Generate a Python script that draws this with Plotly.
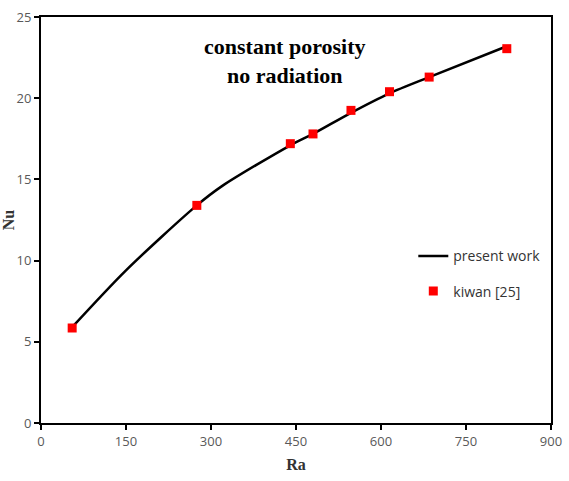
import plotly.graph_objects as go

# present work (line)
ra_line = [55, 150, 275, 320, 440, 480, 547, 615, 685, 822]
nu_line = [5.9, 9.4, 13.4, 14.6, 17.1, 17.8, 19.1, 20.3, 21.3, 23.2]

# kiwan [25] (markers)
ra_kiwan = [55, 275, 440, 480, 547, 615, 685, 822]
nu_kiwan = [5.85, 13.4, 17.2, 17.8, 19.25, 20.4, 21.3, 23.05]

x_ticks = [0, 150, 300, 450, 600, 750, 900]
y_ticks = [0, 5, 10, 15, 20, 25]

fig = go.Figure()
fig.add_trace(go.Scatter(
    x=ra_line, y=nu_line, mode="lines", name="present work",
    line=dict(color="black", width=2.5, shape="spline", smoothing=0.8),
    legendgroup="a"))
fig.add_trace(go.Scatter(
    x=ra_kiwan, y=nu_kiwan, mode="markers", name="kiwan [25]",
    marker=dict(color="#ff0000", symbol="square", size=9),
    legendgroup="b"))

fig.add_annotation(x=430, y=22.3, xref="x", yref="y",
                   text="<b>constant porosity<br>no radiation</b>",
                   showarrow=False, align="center",
                   font=dict(family="Liberation Serif", size=22, color="black"))

axis_common = dict(showline=True, linecolor="black", linewidth=2, mirror=True,
                   ticks="outside", ticklen=5, tickwidth=2, tickcolor="black",
                   showgrid=False, zeroline=False, automargin=False,
                   tickfont=dict(family="Open Sans", size=13, color="#595959"))

fig.update_layout(
    width=569, height=481,
    margin=dict(l=41, r=18, t=17, b=58),
    paper_bgcolor="white", plot_bgcolor="white",
    xaxis=dict(range=[0, 900], tickvals=x_ticks, **axis_common,
               title=dict(text="<b>Ra</b>", standoff=10,
                          font=dict(family="Liberation Serif", size=16, color="#333"))),
    yaxis=dict(range=[0, 25], tickvals=y_ticks, **axis_common,
               title=dict(text="<b>Nu</b>", standoff=4,
                          font=dict(family="Liberation Serif", size=16, color="#333"))),
    legend=dict(x=0.73, y=0.45, xanchor="left", yanchor="top",
                bgcolor="rgba(0,0,0,0)", tracegroupgap=14,
                font=dict(family="Open Sans", size=14, color="#333")),
    showlegend=True,
)

fig.write_html("out.html")
